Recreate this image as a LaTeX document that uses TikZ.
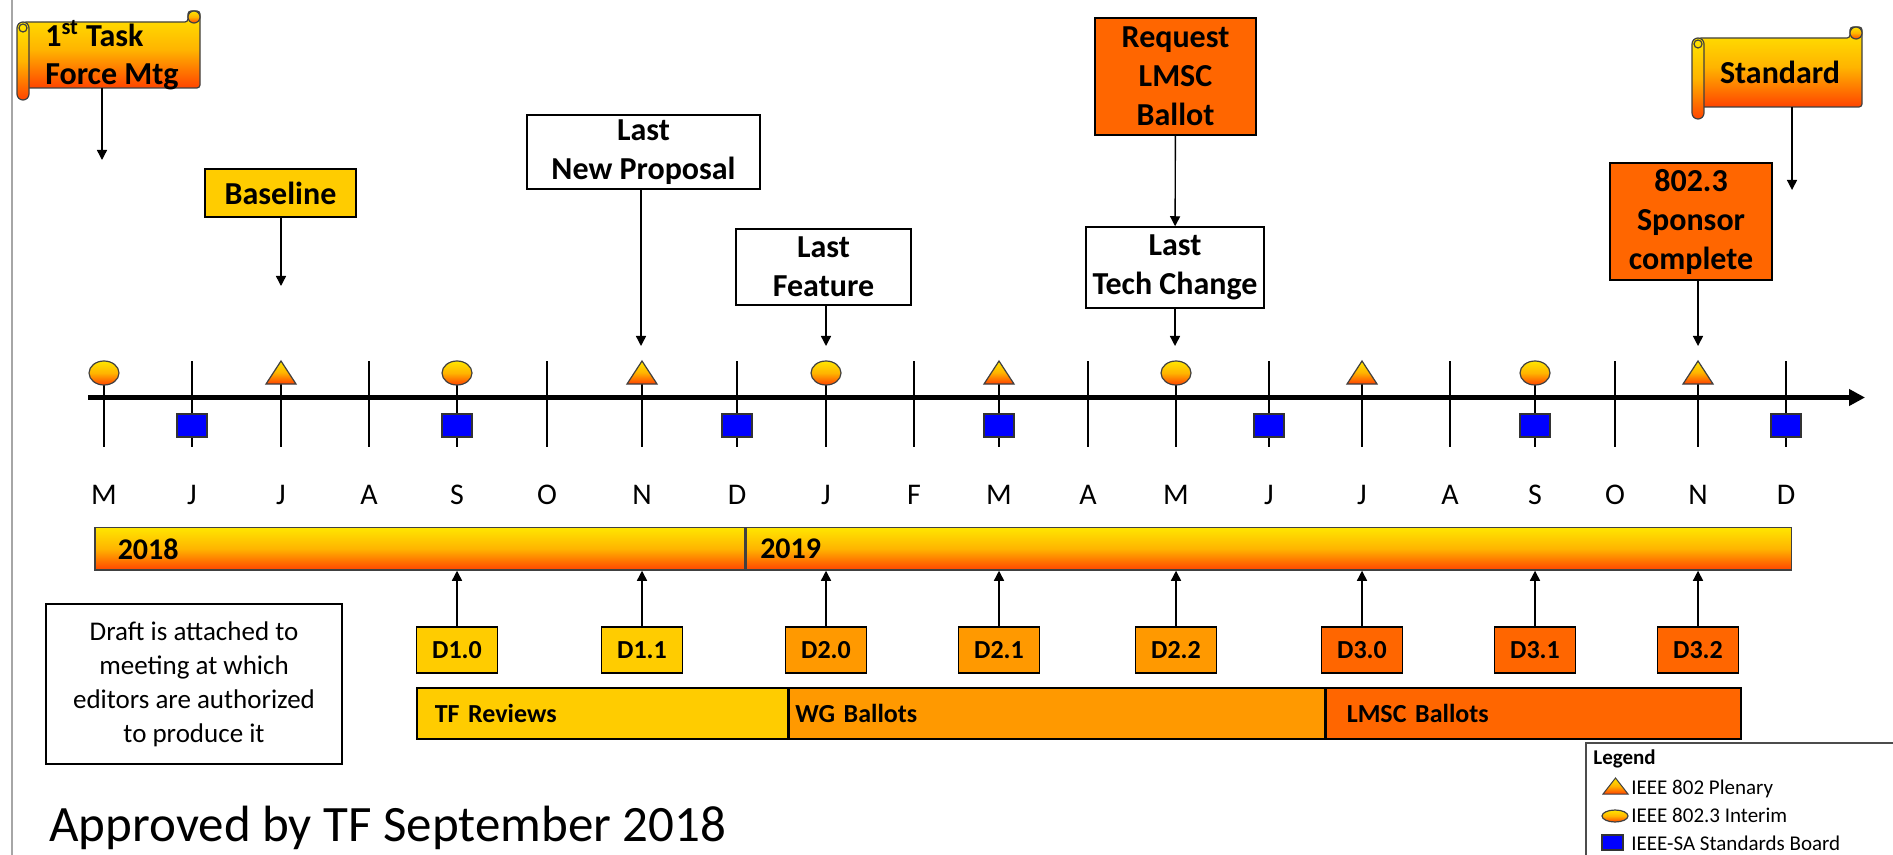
\documentclass[tikz,border=0pt]{standalone}
\usepackage{fontspec}
\setmainfont{Carlito}
\usetikzlibrary{arrows.meta,positioning,shapes.geometric}

\definecolor{gTop}{HTML}{FFE600}
\definecolor{gMid}{HTML}{FFB400}
\definecolor{gBot}{HTML}{FF4400}
\definecolor{draftA}{HTML}{FFCC00}
\definecolor{draftB}{HTML}{FF9900}
\definecolor{draftC}{HTML}{FF6600}
\definecolor{sabBlue}{HTML}{0000FF}

% scroll banner: left, top, right, bottom of the sheet
\newcommand\scrollshape[4]{%
  \draw[scrollfill,rounded corners=1.5pt] (#1+0.6,#2) -- (#3-1.2,#2) -- (#3-1.2,#2-1.1)
    -- (#3,#2-1.1) -- (#3,#4) -- (#1+0.6,#4) -- cycle;
  \draw[scrollfill] (#3-0.6,#2-0.5) circle[radius=0.6];
  \draw[scrollfill,rounded corners=3pt] (#1,#2) rectangle (#1+1.2,#4+1.2);
  \draw[black!75,line width=0.6pt] (#1+0.6,#2+0.6) circle[radius=0.4];
}

\begin{document}
\begin{tikzpicture}[x=5pt,y=-5pt,
    >={Triangle[length=5pt,width=5pt]},
    arr/.style={->,line width=0.7pt},
    grad/.style={top color=gTop,bottom color=gBot,middle color=gMid},
    scrollfill/.style={grad,draw=black!75,line width=0.6pt},
    mile/.style={rectangle,draw,line width=0.75pt,inner sep=0pt,align=center,
      font=\fontsize{16}{19.5}\selectfont\bfseries},
    draft/.style={rectangle,draw,line width=0.75pt,minimum width=40.5pt,minimum height=23pt,
      font=\fontsize{13}{15}\selectfont\bfseries},
    phase/.style={rectangle,draw,line width=0.75pt,minimum height=25.5pt,align=left,
      font=\fontsize{13}{15}\selectfont\bfseries},
    year/.style={rectangle,draw=black!75,line width=0.75pt,grad,minimum height=21.25pt,
      align=left,font=\fontsize{15}{18}\selectfont\bfseries},
    month/.style={font=\fontsize{15}{18}\selectfont},
    interim/.style={ellipse,grad,draw=black!75,line width=0.6pt,minimum width=15pt,
      minimum height=12pt,inner sep=0pt},
    board/.style={rectangle,fill=sabBlue,draw=black!80,line width=0.6pt,minimum width=15pt,
      minimum height=11.5pt,inner sep=0pt},
    legtext/.style={anchor=base west,inner sep=0pt,font=\fontsize{10.5}{12}\selectfont},
  ]
  \useasboundingbox (0,0) rectangle (189.3,85.5);
  \draw[black!35,line width=1pt] (1.2,0) -- (1.2,85.5);

  % months and ticks
  \foreach \x/\m [count=\i] in {10.4/M,19.2/J,28.1/J,36.9/A,45.7/S,54.7/O,64.2/N,73.7/D,
      82.6/J,91.4/F,99.9/M,108.8/A,117.6/M,126.9/J,136.2/J,145/A,153.5/S,161.5/O,169.8/N,178.6/D}{
    \draw[line width=0.65pt] (\x,36.1) -- (\x,44.7);
    \node[month] (m\i) at (\x,49.5) {\m};
  }
  \coordinate (axL) at (8.8,39.75);
  \coordinate (axR) at (186.5,39.75);
  \draw[line width=2.5pt,-{Triangle[length=8pt,width=8pt]}] (axL) -- (axR);

  % meetings
  \foreach \i in {1,5,9,13,17}
    \node[interim] (int\i) at (m\i |- 0,37.3) {};
  \foreach \i in {3,7,11,15,19}
    \draw[grad,draw=black!75,line width=0.6pt] (m\i |- 0,38.4) ++(-1.5,0) -- ++(1.5,-2.3)
      -- ++(1.5,2.3) -- cycle;
  \foreach \i in {2,5,8,11,14,17,20}
    \node[board] (sb\i) at (m\i |- 0,42.55) {};

  % years
  \node[year,anchor=west,minimum width=325pt,inner xsep=11.5pt,text width=302pt] (y18)
    at (9.4,54.875) {2018};
  \node[year,right=0pt of y18,minimum width=522.5pt,inner xsep=7pt,text width=508.5pt] (y19) {2019};

  % drafts
  \foreach \i/\n/\lab/\c in {5/d10/D1.0/draftA,7/d11/D1.1/draftA,9/d20/D2.0/draftB,
      11/d21/D2.1/draftB,13/d22/D2.2/draftB,15/d30/D3.0/draftC,17/d31/D3.1/draftC,19/d32/D3.2/draftC}{
    \node[draft,fill=\c] (\n) at (m\i |- 0,65) {\lab};
    \draw[arr] (\n.north) -- (\n.north |- y18.south);
  }

  % review phases
  \node[phase,fill=draftA,anchor=west,minimum width=185.5pt,inner xsep=9pt,text width=167.5pt] (tf)
    at (41.6,71.35) {TF Reviews};
  \node[phase,fill=draftB,right=0pt of tf,minimum width=267.5pt,inner xsep=3pt,text width=261.5pt] (wg)
    {WG Ballots};
  \node[phase,fill=draftC,right=0pt of wg,minimum width=207.5pt,inner xsep=10.5pt,text width=186.5pt] (lmsc)
    {LMSC Ballots};

  \node[rectangle,draw,line width=0.75pt,minimum width=148pt,minimum height=80pt,align=center,
    font=\fontsize{13.5}{17}\selectfont] (note) at (19.4,68.4)
    {Draft is attached to\\meeting at which\\editors are authorized\\to produce it};

  % milestones
  \scrollshape{1.7}{2.2}{20}{8.8}
  \node[align=left,inner sep=0pt,font=\fontsize{16}{19}\selectfont\bfseries] (task) at (11.2,5.5)
    {1\textsuperscript{st} Task\\Force Mtg};
  \scrollshape{169.2}{3.8}{186.2}{10.7}
  \node[inner sep=0pt,font=\fontsize{16}{19.5}\selectfont\bfseries] (std) at (178,7.2) {Standard};

  \node[mile,fill=draftA,minimum width=75.5pt,minimum height=24pt] (base) at (28.05,19.3) {Baseline};
  \node[mile,minimum width=116.5pt,minimum height=37pt] (newprop) at (64.35,15.2) {Last\\New Proposal};
  \node[mile,minimum width=87.5pt,minimum height=38pt] (feat) at (82.35,26.7) {Last\\Feature};
  \node[mile,fill=draftC,minimum width=80.5pt,minimum height=58.5pt] (req) at (117.55,7.65)
    {Request\\LMSC\\Ballot};
  \node[mile,minimum width=89pt,minimum height=40.5pt] (tech) at (117.5,26.75) {Last\\Tech Change};
  \node[mile,fill=draftC,minimum width=81pt,minimum height=58.5pt] (spons) at (169.1,22.15)
    {802.3\\Sponsor\\complete};

  \coordinate (sTask) at (10.2,8.8);
  \coordinate (eTask) at (10.2,16);
  \coordinate (eBase) at (28.1,28.6);
  \coordinate (eNov) at (64.1,34.6);
  \coordinate (eJan) at (82.6,34.6);
  \coordinate (eMay) at (117.5,34.6);
  \coordinate (eNov2) at (169.8,34.6);
  \coordinate (sStd) at (179.2,10.7);
  \coordinate (eStd) at (179.2,19);
  \draw[arr] (sTask) -- (eTask);
  \draw[arr] (base.south -| eBase) -- (eBase);
  \draw[arr] (newprop.south -| eNov) -- (eNov);
  \draw[arr] (feat.south -| eJan) -- (eJan);
  \draw[arr] (req) -- (tech);
  \draw[arr] (tech.south -| eMay) -- (eMay);
  \draw[arr] (spons.south -| eNov2) -- (eNov2);
  \draw[arr] (sStd) -- (eStd);

  % legend
  \draw[black!70,line width=0.6pt] (158.6,74.3) rectangle (190,87);
  \node[legtext,font=\fontsize{10.5}{12}\selectfont\bfseries] (leg) at (159.3,76.4) {Legend};
  \draw[grad,draw=black!75,line width=0.5pt] (160.3,79.4) -- (161.55,77.8) -- (162.8,79.4) -- cycle;
  \node[legtext] (lg1) at (163.1,79.4) {IEEE 802 Plenary};
  \node[interim,minimum width=13pt,minimum height=6pt] (lgInt) at (161.5,81.6) {};
  \node[legtext] (lg2) at (163.1,82.2) {IEEE 802.3 Interim};
  \node[board,minimum width=10.5pt,minimum height=7.5pt] (lgSb) at (161.25,84.25) {};
  \node[legtext] (lg3) at (163.1,85) {IEEE-SA Standards Board};

  \node[anchor=base west,inner sep=0pt,font=\fontsize{25.5}{30}\selectfont] (approved) at (4.9,84.1)
    {Approved by TF September 2018};
\end{tikzpicture}
\end{document}
